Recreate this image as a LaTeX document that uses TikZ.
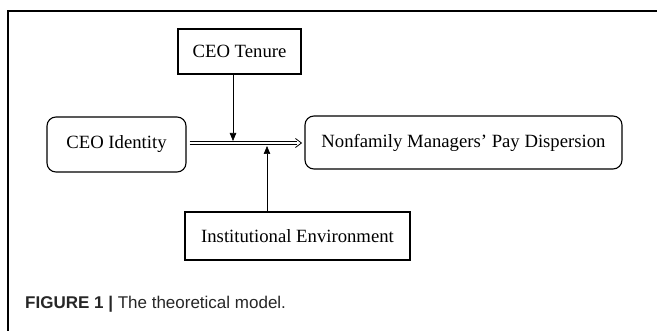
\documentclass[tikz,border=0pt]{standalone}
\usepackage{fontspec}
\setmainfont{Liberation Serif}
\newfontfamily\capfont{Liberation Sans}
\usetikzlibrary{arrows.meta}
\begin{document}
\begin{tikzpicture}[x=1pt,y=-1pt,
  sqbox/.style={draw,line width=1.9pt,minimum width=#1,inner sep=0pt,font=\fontsize{18.7}{20}\selectfont},
  rbox/.style={draw,line width=1.1pt,rounded corners=9pt,minimum width=#1,inner sep=0pt,font=\fontsize{18.7}{20}\selectfont},
  thin arrow/.style={line width=0.6pt,-{Triangle[length=8pt,width=6.5pt]}},
  dline/.style={line width=0.8pt}]
\useasboundingbox (0,0) rectangle (657,331);
\draw[line width=1.3pt] (8,331) -- (8,11) -- (657,11);
\node[sqbox=123pt,minimum height=45pt] (ten) at (239.5,51.5) {CEO Tenure};
\node[rbox=139pt,minimum height=55pt] (id) at (116.5,144.5) {CEO Identity};
\node[rbox=317pt,minimum height=53pt] (nf) at (463.5,142.5) {Nonfamily Managers’ Pay Dispersion};
\node[sqbox=225pt,minimum height=48pt] (inst) at (297.5,236) {Institutional Environment};
\coordinate (a) at ([xshift=3pt]id.east |- 0,143);
\coordinate (b) at ([xshift=-3pt]nf.west |- 0,143);
\draw[dline] ([yshift=-1.8pt]a) -- ([yshift=-1.8pt,xshift=-4pt]b);
\draw[dline] ([yshift=1.8pt]a) -- ([yshift=1.8pt,xshift=-4pt]b);
\draw[dline,line join=miter] ([xshift=-6pt,yshift=-4.5pt]b) -- (b) -- ([xshift=-6pt,yshift=4.5pt]b);
\coordinate (m1) at (233,141);
\coordinate (m2) at (267,146);
\draw[thin arrow] (ten.south -| m1) -- (m1);
\draw[thin arrow] (inst.north -| m2) -- (m2);
\node[anchor=west,inner sep=0pt,text=black!85,font=\capfont\fontsize{17}{19}\selectfont] (cap) at (25,304) {\textbf{FIGURE 1 |} The theoretical model.};
\end{tikzpicture}
\end{document}
